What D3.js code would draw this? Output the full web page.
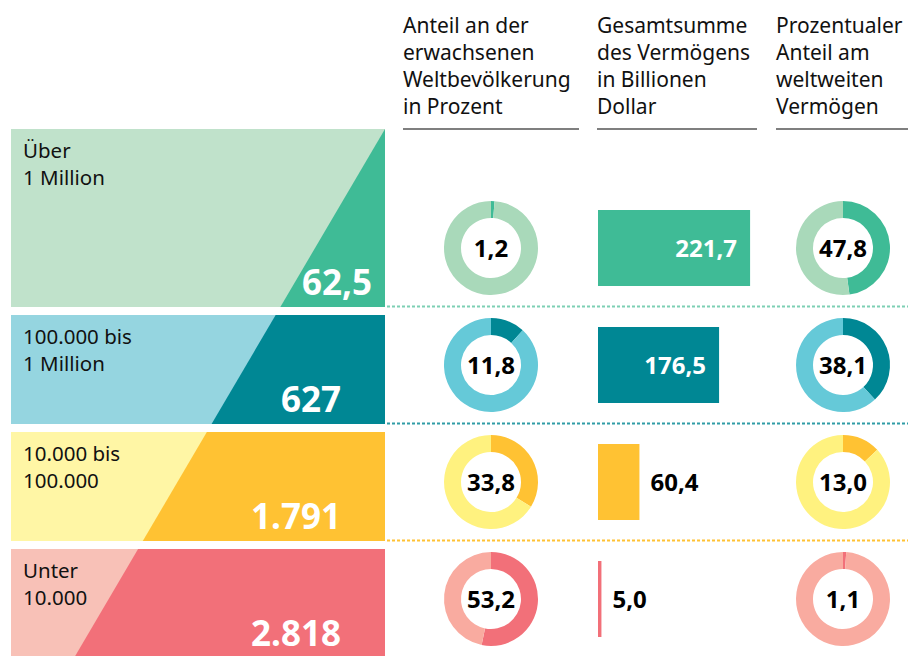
<!DOCTYPE html>
<html>
<head>
<meta charset="utf-8">
<script src="https://cdn.jsdelivr.net/npm/d3@7"></script>
<style>
  body { margin: 0; background: #fff; }
  text { font-family: "Noto Sans", "Open Sans", sans-serif; }
</style>
</head>
<body>
<div id="chart"></div>
<script>
// Vermögensklassen (Dollar) und Werte
var classLabels = [["Über", "1 Million"], ["100.000 bis", "1 Million"], ["10.000 bis", "100.000"], ["Unter", "10.000"]];
var adultsMio = [62.5, 627, 1791, 2818];          // Erwachsene in Millionen
var popShare = [1.2, 11.8, 33.8, 53.2];           // Anteil an Weltbevölkerung, %
var wealthTotal = [221.7, 176.5, 60.4, 5.0];      // Billionen Dollar
var wealthShare = [47.8, 38.1, 13.0, 1.1];        // Anteil am Vermögen, %

var headers = [
  ["Anteil an der", "erwachsenen", "Weltbevölkerung", "in Prozent"],
  ["Gesamtsumme", "des Vermögens", "in Billionen", "Dollar"],
  ["Prozentualer", "Anteil am", "weltweiten", "Vermögen"]
];

var darkColors  = ["#3fbb96", "#008794", "#ffc233", "#f27079"];
var lightColors = ["#c0e2cb", "#95d5e0", "#fff6a5", "#f8c1b7"];
var ringColors  = ["#a9d9ba", "#65c9d8", "#fff27f", "#f9aba0"];
var dotColors   = ["#7dd0b4", "#2f9ca6", "#ffc233"];

var width = 924, height = 656;

var locale = d3.formatLocale({decimal: ",", thousands: ".", grouping: [3], currency: ["", ""]});
var fmtCount = function(v) { return Number.isInteger(v) ? locale.format(",d")(v) : locale.format(",.1f")(v); };
var fmt1 = locale.format(",.1f");

var svg = d3.select("#chart").append("svg")
  .attr("width", width)
  .attr("height", height);

// Row layout (left panels)
var panelLeft = 11, panelRight = 385;
var firstTop = 129, firstH = 178, rowH = 109, gap = 8;
var rows = classLabels.map(function(d, i) {
  var top = i == 0 ? firstTop : firstTop + firstH + gap + (i - 1) * (rowH + gap);
  var h = i == 0 ? firstH : rowH;
  return {i: i, top: top, bottom: top + h};
});

// one continuous diagonal through all panels
var diag = d3.scaleLinear()
  .domain([firstTop, rows[3].bottom])
  .range([panelRight, 74]);

// Header columns
var colX = [404, 598, 777];
var colEnd = [579, 757, 908];
headers.forEach(function(lines, c) {
  var t = svg.append("text")
    .attr("x", colX[c] - 1)
    .attr("y", 33)
    .style("font-size", "21px")
    .style("fill", "#111");
  lines.forEach(function(l, j) {
    t.append("tspan").attr("x", colX[c] - 1).attr("dy", j == 0 ? 0 : 27).text(l);
  });
  svg.append("line")
    .attr("x1", colX[c] - 1).attr("x2", colEnd[c])
    .attr("y1", 129).attr("y2", 129)
    .style("stroke", "#555")
    .style("stroke-width", 1.5);
});

// Left panels
var panel = svg.selectAll("g.panel")
  .data(rows).enter()
  .append("g")
  .attr("class", "panel");

panel.append("rect")
  .attr("x", panelLeft)
  .attr("y", function(d) { return d.top; })
  .attr("width", panelRight - panelLeft)
  .attr("height", function(d) { return d.bottom - d.top; })
  .style("fill", function(d) { return lightColors[d.i]; });

panel.append("path")
  .attr("d", function(d) {
    return d3.line()([
      [diag(d.top), d.top], [panelRight, d.top],
      [panelRight, d.bottom], [diag(d.bottom), d.bottom]
    ]) + "Z";
  })
  .style("fill", function(d) { return darkColors[d.i]; });

panel.each(function(d) {
  var t = d3.select(this).append("text")
    .attr("x", 23)
    .attr("y", d.top + 29)
    .style("font-size", "20.5px")
    .style("fill", "#111");
  classLabels[d.i].forEach(function(l, j) {
    t.append("tspan").attr("x", 23).attr("dy", j == 0 ? 0 : 27).text(l);
  });
});

panel.append("text")
  .attr("x", function(d) { return d.i == 0 ? panelRight - 13 : panelRight - 44; })
  .attr("y", function(d) { return d.bottom - 12; })
  .attr("text-anchor", "end")
  .style("font-size", "35px")
  .style("font-weight", "bold")
  .style("fill", "#fff")
  .text(function(d) { return fmtCount(adultsMio[d.i]); });

// dotted separators
svg.selectAll("line.dots")
  .data(rows.slice(0, 3)).enter()
  .append("line")
  .attr("class", "dots")
  .attr("x1", panelRight + 2).attr("x2", 908)
  .attr("y1", function(d) { return d.bottom - 0.5; })
  .attr("y2", function(d) { return d.bottom - 0.5; })
  .style("stroke", function(d) { return dotColors[d.i]; })
  .style("stroke-width", 2)
  .style("stroke-dasharray", "3,2");

// row centres on the right
var cy = function(d) { return d.bottom - 59; };

var arc = d3.arc().innerRadius(30).outerRadius(47);
var pie = d3.pie().sort(null).value(function(v) { return v; });

function donut(values, cx) {
  var g = svg.selectAll(null)
    .data(rows).enter()
    .append("g")
    .attr("transform", function(d) { return "translate(" + cx + "," + cy(d) + ")"; });
  g.selectAll("path")
    .data(function(d) {
      return pie([values[d.i], 100 - values[d.i]]).map(function(a, k) { a.row = d.i; a.k = k; return a; });
    })
    .enter().append("path")
    .attr("d", arc)
    .style("fill", function(a) { return a.k == 0 ? darkColors[a.row] : ringColors[a.row]; });
  g.append("text")
    .attr("text-anchor", "middle")
    .attr("dy", "0.36em")
    .style("font-size", "24px")
    .style("font-weight", "bold")
    .style("fill", "#000")
    .text(function(d) { return fmt1(values[d.i]); });
}

donut(popShare, 491);
donut(wealthShare, 843);

// bars: total wealth
var x = d3.scaleLinear().domain([0, 100]).range([0, 68.6]);
var barX = 598, barH = 76;

var bar = svg.selectAll("g.bar")
  .data(rows).enter()
  .append("g")
  .attr("class", "bar");

bar.append("rect")
  .attr("x", barX)
  .attr("y", function(d) { return cy(d) - barH / 2; })
  .attr("width", function(d) { return x(wealthTotal[d.i]); })
  .attr("height", barH)
  .style("fill", function(d) { return darkColors[d.i]; });

bar.append("text")
  .attr("x", function(d) {
    var w = x(wealthTotal[d.i]);
    return w > 100 ? barX + w - 13 : barX + w + 11;
  })
  .attr("y", function(d) { return cy(d); })
  .attr("dy", "0.36em")
  .attr("text-anchor", function(d) { return x(wealthTotal[d.i]) > 100 ? "end" : "start"; })
  .style("font-size", "24px")
  .style("font-weight", "bold")
  .style("fill", function(d) { return x(wealthTotal[d.i]) > 100 ? "#fff" : "#000"; })
  .text(function(d) { return fmt1(wealthTotal[d.i]); });
</script>
</body>
</html>
